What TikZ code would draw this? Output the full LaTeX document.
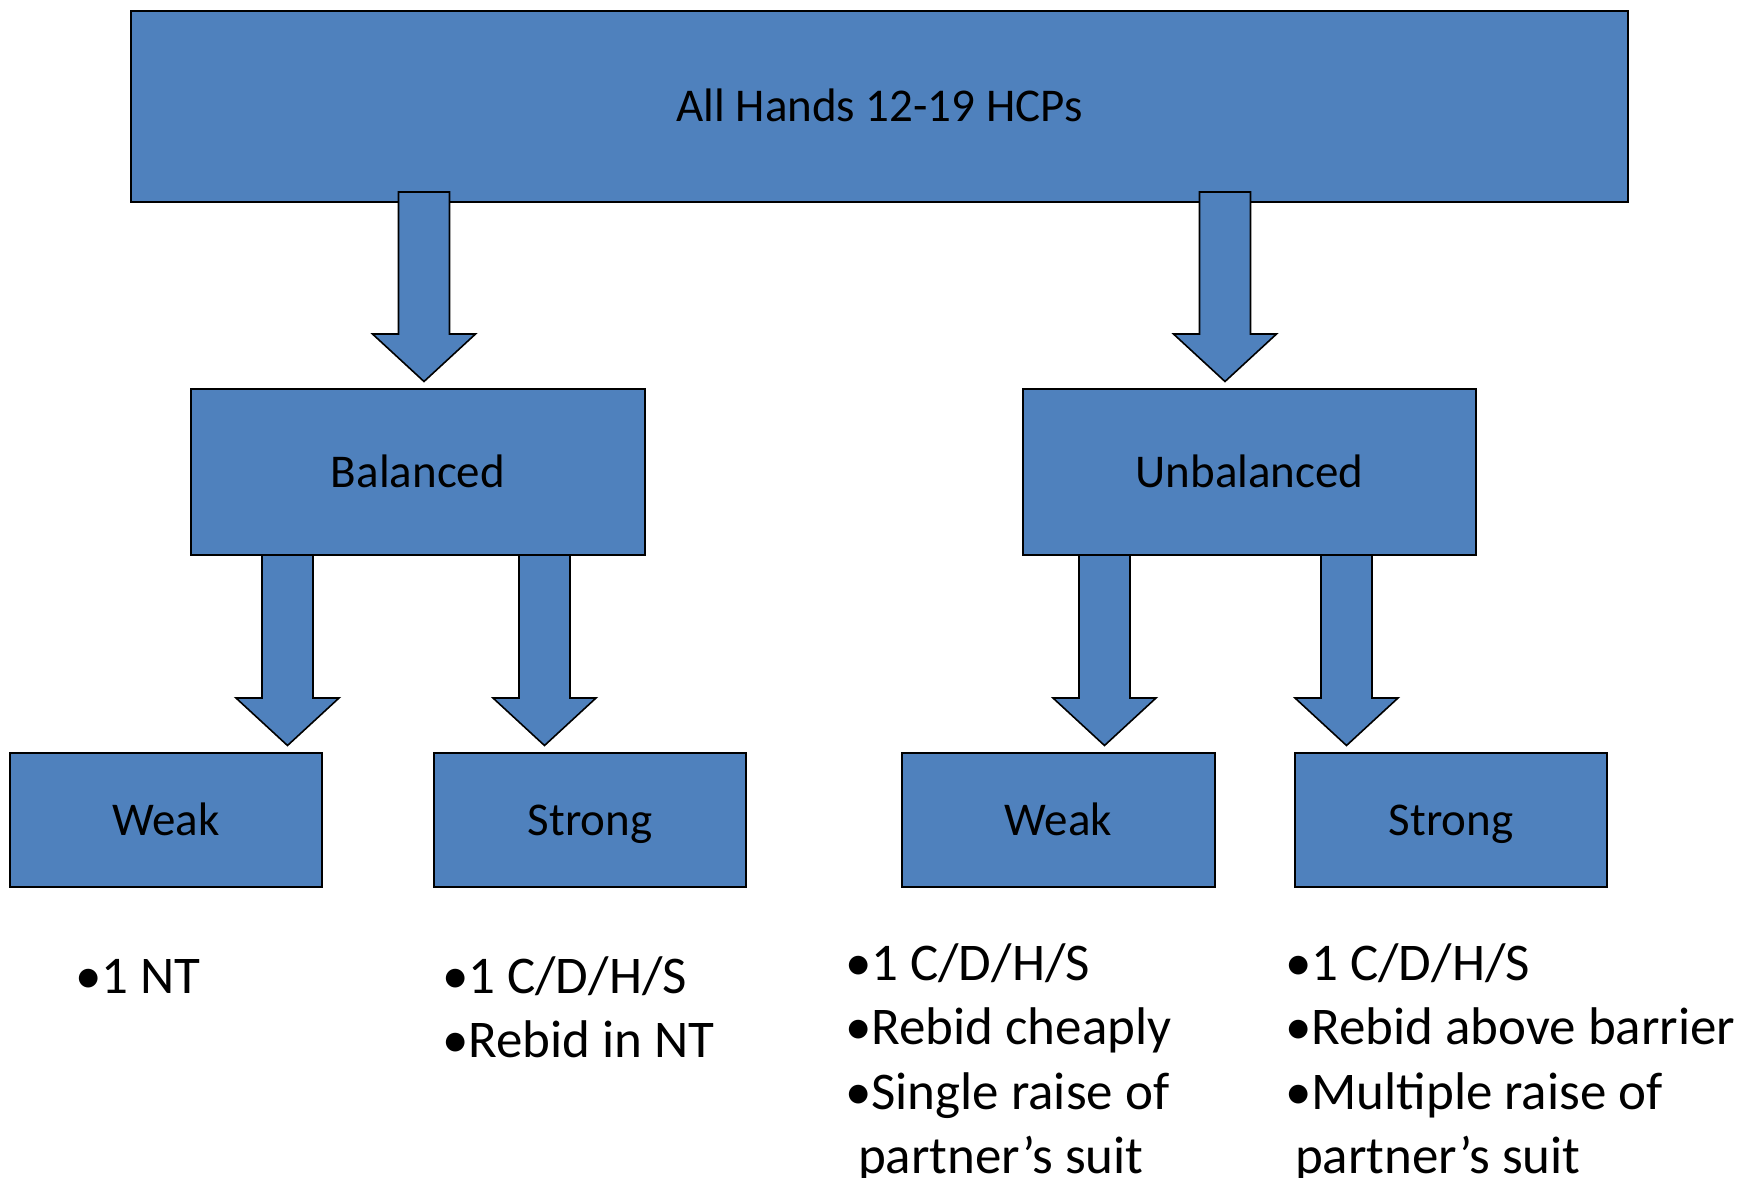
\documentclass[tikz,border=0pt]{standalone}
\usepackage{fontspec}
\setmainfont{Carlito}
\usetikzlibrary{calc}
\definecolor{boxblue}{HTML}{4F81BD}
\tikzset{
  box/.style={draw=black, line width=2.5pt, fill=boxblue, inner sep=0pt, outer sep=0pt,
    text height=36pt, text depth=6pt, font=\fontsize{47}{56}\selectfont},
  barrow/.style={draw=black, line width=1.6pt, fill=boxblue, line join=miter},
  bullets/.style={anchor=base west, inner sep=0pt, outer sep=0pt,
    font=\fontsize{53}{64.5}\selectfont}
}
% #1 = x of arrow axis, #2 = source node, #3 = target node, #4 = overlap into source
\newcommand\blockarrow[4]{%
  \draw[barrow] let \p1=(#2.south), \p2=(#3.north) in
    ({#1pt-25.5pt},{\y1+#4pt}) -- ({#1pt+25.5pt},{\y1+#4pt}) --
    ({#1pt+25.5pt},{\y2+55pt}) -- ({#1pt+51.5pt},{\y2+55pt}) --
    ({#1pt},{\y2+7.5pt}) -- ({#1pt-51.5pt},{\y2+55pt}) --
    ({#1pt-25.5pt},{\y2+55pt}) -- cycle;}
\begin{document}
\begin{tikzpicture}[x=1pt,y=-1pt]
\useasboundingbox (0,0) rectangle (1743,1178);

\node[box, minimum width=1497pt, minimum height=191pt] (all) at (879.5,106.5) {All Hands 12-19 HCPs};
\node[box, minimum width=454pt, minimum height=166pt] (bal) at (418,472) {Balanced};
\node[box, minimum width=453pt, minimum height=166pt] (unb) at (1249.5,472) {Unbalanced};
\node[box, minimum width=312pt, minimum height=134pt] (bw) at (166,820) {Weak};
\node[box, minimum width=312pt, minimum height=134pt] (bs) at (590,820) {Strong};
\node[box, minimum width=313pt, minimum height=134pt] (uw) at (1058.5,820) {Weak};
\node[box, minimum width=312pt, minimum height=134pt] (us) at (1451,820) {Strong};

\blockarrow{424}{all}{bal}{10}
\blockarrow{1225}{all}{unb}{10}
\blockarrow{287.5}{bal}{bw}{0}
\blockarrow{544.5}{bal}{bs}{0}
\blockarrow{1104.5}{unb}{uw}{0}
\blockarrow{1346.5}{unb}{us}{0}

\node[bullets] (l1) at (75,993) {\begin{tabular}[t]{@{}l@{}}•1 NT\end{tabular}};
\node[bullets] (l2) at (442,993) {\begin{tabular}[t]{@{}l@{}}•1 C/D/H/S\\•Rebid in NT\end{tabular}};
\node[bullets] (l3) at (845,980) {\begin{tabular}[t]{@{}l@{}}•1 C/D/H/S\\•Rebid cheaply\\•Single raise of\\\hspace{13pt}partner’s suit\end{tabular}};
\node[bullets] (l4) at (1285,980) {\begin{tabular}[t]{@{}l@{}}•1 C/D/H/S\\•Rebid above barrier\\•Multiple raise of\\\hspace{10pt}partner’s suit\end{tabular}};
\end{tikzpicture}
\end{document}
